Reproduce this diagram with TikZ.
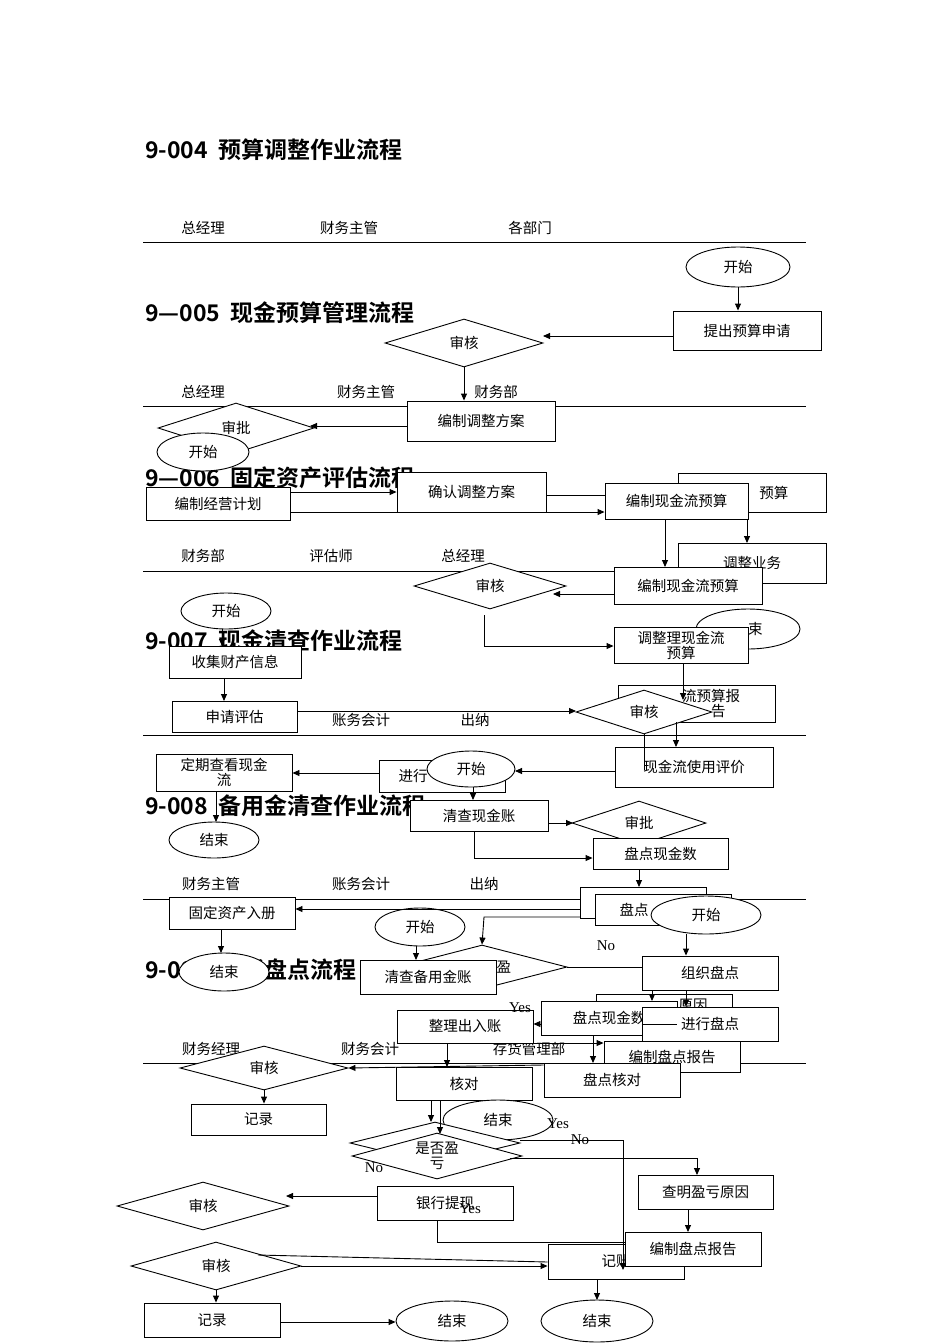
\documentclass[tikz,border=0pt]{standalone}
\usepackage{fontspec}
\setmainfont{Liberation Serif}
\newfontfamily\cjk{Noto Sans CJK SC}
\newfontfamily\cjkb{Noto Sans CJK SC Bold}
\usetikzlibrary{shapes.geometric,arrows.meta}
\tikzset{
 base/.style={draw,fill=white,line width=0.9pt,inner sep=0pt,font=\cjk\fontsize{14.5}{15}\selectfont,align=center},
 bx/.style={base,rectangle},
 el/.style={base,ellipse},
 dm/.style={base,diamond},
 ar/.style={line width=0.9pt,-{Triangle[length=7pt,width=6pt]}},
 ln/.style={line width=0.9pt},
 hd/.style={font=\cjk\fontsize{14.5}{15}\selectfont,inner sep=0pt},
 tx/.style={font=\cjk\fontsize{14.5}{15}\selectfont,inner sep=0pt,align=center},
 ttl/.style={font=\cjkb\fontsize{23}{24}\selectfont,anchor=west,inner sep=0pt},
 yn/.style={font=\fontsize{15}{15}\selectfont,inner sep=0pt}
}
\newcommand\bx[6]{\node[bx,minimum width={(#4-#2)*1pt},minimum height={(#5-#3)*1pt}] (#1) at ({(#2+#4)/2},{(#3+#5)/2}) {#6};}
\newcommand\el[6]{\node[el,minimum width={#4*1pt},minimum height={#5*1pt}] (#1) at (#2,#3) {#6};}
\newcommand\dm[6]{\node[dm,minimum width={#4*1pt},minimum height={#5*1pt}] (#1) at (#2,#3) {}; \node[tx] (#1t) at (#2,#3) {#6};}
\begin{document}
\begin{tikzpicture}[x=1pt,y=-1pt]
\useasboundingbox (0,0) rectangle (950,1344);
% titles
\node[ttl] (t1) at (145,150) {9-004\ \ 预算调整作业流程};
\node[ttl] (t2) at (145,313) {9—005\ \ 现金预算管理流程};
\node[ttl] (t3) at (145,478) {9—006\ \ 固定资产评估流程};
\node[ttl] (t4) at (145,641) {9-007\ \ 现金清查作业流程};
\node[ttl] (t5) at (145,806) {9-008\ \ 备用金清查作业流程};
\node[ttl] (t6) at (145,970) {9-009\ \ 存货盘点流程};
% lines + headers
\foreach \y/\n in {242/a,406/b,571/c,735/d,899/e,1063/f} \draw[ln] (143,\y) coordinate (l\n1) -- (806,\y) coordinate (l\n2);
\node[hd] (h1) at (203,228) {总经理}; \node[hd] (h2) at (349,228) {财务主管}; \node[hd] (h3) at (530,228) {各部门};
\node[hd] (h4) at (203,392) {总经理}; \node[hd] (h5) at (366,392) {财务主管}; \node[hd] (h6) at (496,392) {财务部};
\node[hd] (h7) at (203,556) {财务部}; \node[hd] (h8) at (331,556) {评估师}; \node[hd] (h9) at (463,556) {总经理};
\node[hd] (h10) at (361,720) {账务会计}; \node[hd] (h11) at (475,720) {出纳};
\node[hd] (h12) at (211,884) {财务主管}; \node[hd] (h13) at (361,884) {账务会计}; \node[hd] (h14) at (484,884) {出纳};
\node[hd] (h15) at (211,1049) {财务经理}; \node[hd] (h16) at (370,1049) {财务会计}; \node[hd] (h17) at (529,1049) {存货管理部};
% shapes (drawing order for overlaps)
\el{s1}{738}{267}{104}{40}{开始}
\bx{b1}{673}{311}{821}{350}{提出预算申请}
\dm{d1}{464}{343}{158}{48}{审核}
\bx{b2}{407}{401}{555}{441}{编制调整方案}
\dm{d2}{236}{428}{156}{50}{审批}
\el{s2}{203}{452}{92}{38}{开始}
\bx{b4}{146}{487}{290}{520}{编制经营计划}
\bx{b3}{397}{472}{546}{512}{确认调整方案}
\bx{b5}{678}{473}{826}{512}{\hspace*{3em}预算}
\bx{b6}{605}{483}{748}{519}{编制现金流预算}
\bx{b7}{678}{543}{826}{583}{调整业务}
\dm{d3}{490}{586}{152}{46}{审核}
\bx{b8}{614}{567}{762}{604}{编制现金流预算}
\el{e1}{748}{629}{104}{40}{\hspace*{1em}束}
\bx{b9}{614}{627}{748}{663}{调整理现金流\\预算}
\el{s3}{226}{611}{90}{36}{开始}
\bx{b10}{169}{646}{301}{678}{收集财产信息}
\bx{b11}{172}{701}{297}{732}{申请评估}
\bx{b12}{618}{685}{775}{722}{\hspace*{2em}流预算报\\\hspace*{3em}告}
\dm{d4}{644}{712}{136}{44}{审核}
\bx{b13}{615}{747}{773}{787}{现金流使用评价}
\bx{b14}{156}{754}{292}{791}{定期查看现金\\流}
\bx{b15}{379}{760}{505}{792}{进行\hspace*{4em}}
\el{s4}{471}{769}{88}{36}{开始}
\bx{b16}{410}{800}{548}{831}{清查现金账}
\dm{d5}{639}{823}{134}{44}{审批}
\el{e2}{214}{840}{90}{36}{结束}
\bx{b17}{593}{838}{728}{869}{盘点现金数}
\bx{b18}{580}{887}{706}{918}{}
\bx{b19}{595}{894}{731}{925}{盘点\hspace*{4em}}
\bx{b20}{169}{897}{295}{929}{固定资产入册}
\el{s5}{706}{915}{110}{38}{开始}
\dm{d6}{482}{967}{170}{44}{\hspace*{3em}盈}
\el{s6}{420}{927}{90}{38}{开始}
\el{e3}{224}{972}{90}{38}{结束}
\bx{b21}{360}{960}{496}{994}{清查备用金账}
\bx{b22}{642}{956}{778}{990}{组织盘点}
\bx{b23}{596}{994}{732}{1016}{\hspace*{4em}原因}
\bx{b24}{541}{1001}{677}{1035}{盘点现金数}
\bx{b25}{397}{1010}{533}{1043}{整理出入账}
\bx{b26}{642}{1007}{778}{1041}{进行盘点}
\bx{b27}{604}{1041}{740}{1072}{编制盘点报告}
\dm{d7}{264}{1068}{168}{44}{审核}
\bx{b28}{396}{1067}{532}{1100}{核对}
\bx{b29}{544}{1063}{680}{1097}{盘点核对}
\bx{b30}{191}{1104}{326}{1135}{记录}
\el{e4}{498}{1120}{110}{40}{结束}
\node[dm,minimum width=170pt,minimum height=42pt] (d8) at (435,1143) {};
\dm{d9}{437}{1156}{170}{46}{是否盈\\亏}
\bx{b31}{638}{1175}{773}{1209}{查明盈亏原因}
\bx{b32}{377}{1186}{513}{1220}{银行提现}
\dm{d10}{203}{1206}{172}{48}{审核}
\bx{b34}{548}{1244}{684}{1279}{记账}
\bx{b33}{625}{1232}{761}{1266}{编制盘点报告}
\dm{d11}{216}{1266}{170}{48}{审核}
\bx{b35}{144}{1303}{280}{1337}{记录}
\el{e5}{452}{1321}{112}{40}{结束}
\el{e6}{597}{1321}{112}{42}{结束}
% labels
\node[yn] (n1) at (606,946) {No};
\node[yn] (n2) at (520,1008) {Yes};
\node[yn] (n3) at (558,1124) {Yes};
\node[yn] (n4) at (580,1140) {No};
\node[yn] (n5) at (374,1168) {No};
\node[yn] (n6) at (470,1209) {Yes};
% connectors
\draw[ar] (s1) -- (s1|-b1.north);
\draw[ar] (b1.west|-0,336) -- (543,336);
\draw[ar] (d1.south) -- (d1.south|-b2.north);
\draw[ar] (b2.west|-0,426) -- (310,426);
\draw[ar] (b4.east|-b3.west) -- (b3.west);
\draw[ar] (290,512) -- (b6.west|-0,512);
\draw[ln] (b3.east|-0,495) -- (b6.west|-0,495);
\draw[ar] (747,519) -- (747,543);
\draw[ar] (665,519) -- (665,567);
\draw[ar] (b8.west|-0,594) -- (553,594);
\draw[ar] (484,615) -- (484,646) -- (b9.west|-0,646);
\draw[ar] (683,663) -- (683,700);
\draw[ar] (676,722) -- (676,747);
\draw[ar] (b13.west|-0,771) -- (515,771);
\draw[ln] (d4.south) -- (644,770);
\draw[ar] (222,629) -- (222,646);
\draw[ar] (224,678) -- (224,701);
\draw[ar] (b11.east|-0,711) -- (576,711);
\draw[ar] (b15.west|-0,773) -- (b14.east|-0,773);
\draw[ar] (216,791) -- (216,822);
\draw[ar] (473,787) -- (473,800);
\draw[ar] (b16.east|-0,823) -- (573,823);
\draw[ar] (474,831) -- (474,858) -- (b17.west|-474,858);
\draw[ar] (639,869) -- (639,887);
\draw[ar] (b18.west|-0,909) -- (b20.east|-0,909);
\draw[ar] (221,929) -- (221,953);
\draw[ar] (580,917) -- (484,917) -- (d6.north);
\draw[ar] (416,946) -- (416,960);
\draw[ar] (686,934) -- (b22.north-|686,0);
\draw[ar] (686,990) -- (b26.north-|686,0);
\draw[ar] (652,990) -- (652,1001);
\draw[ln] (d6.east) -- (b22.west|-d6.east);
\draw[ar] (b24.west|-0,1024) -- (b25.east|-0,1024);
\draw[ln] (b26.west|-0,1024) -- (b24.east|-0,1024);
\draw[ar] (593,1035) -- (593,1063);
\draw[ar] (447,1043) -- (447,1067);
\draw[ar] (487,1043) -- (b27.west|-487,1043);
\draw[ar] (b29.west|-0,1065) -- (d7.east);
\draw[ar] (d7.south) -- (b30.north-|d7.south);
\draw[ar] (431,1100) -- (431,1122);
\draw[ar] (440,1100) -- (440,1134);
\draw[ar] (510,1158) -- (697,1158) -- (697,1175);
\draw[ar] (520,1140) -- (623,1140) -- (623,1270);
\draw[ar] (688,1209) -- (688,1232);
\draw[ar] (b32.west|-0,1196) -- (286,1196);
\draw[ln] (437,1220) -- (437,1242) -- (b33.west|-437,1242);
\draw[ar] (d11.east) -- (b34.west|-d11.east);
\draw[ln] (b34.west|-0,1262) -- (258,1255);
\draw[ar] (d11.south) -- (b35.north-|d11.south);
\draw[ar] (b35.east|-0,1322) -- (e5.west|-0,1322);
\draw[ar] (597,1279) -- (597,1300);
\end{tikzpicture}
\end{document}
